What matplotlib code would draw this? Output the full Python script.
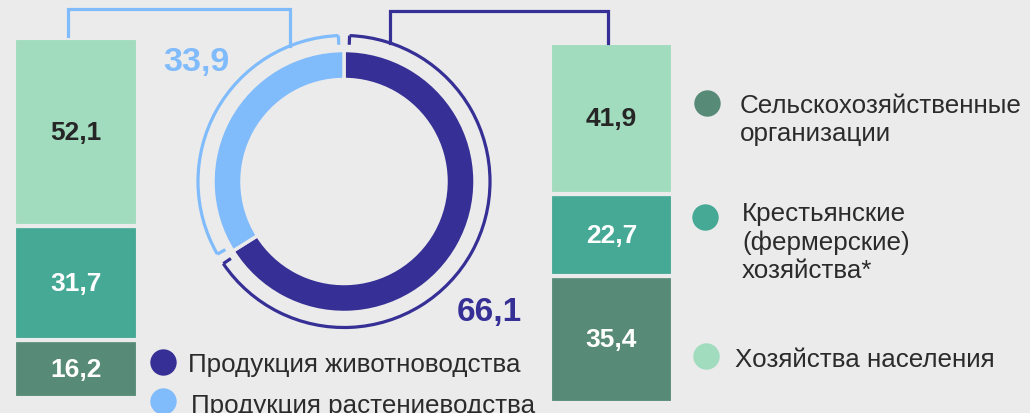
import numpy as np
import matplotlib
matplotlib.use("Agg")
import matplotlib.pyplot as plt
from matplotlib.patches import Arc

plt.rcParams['font.family'] = ['Liberation Sans', 'DejaVu Sans']

# ---------------- data ----------------
donut_labels = ["Продукция животноводства", "Продукция растениеводства"]
donut_values = [66.1, 33.9]

bar_categories = ["Сельскохозяйственные\nорганизации",
                  "Крестьянские\n(фермерские)\nхозяйства*",
                  "Хозяйства населения"]
# stacked bottom -> top in the order of bar_categories
crop_values = [16.2, 31.7, 52.1]       # left bar (растениеводство)
livestock_values = [35.4, 22.7, 41.9]  # right bar (животноводство)

# ---------------- style ----------------
BG = "#ebebeb"
DARK_BLUE = "#363096"
LIGHT_BLUE = "#80bbfc"
SEG_COLORS = ["#578a77", "#45a996", "#a0dcbd"]
LABEL_COLORS = ["white", "white", "#262626"]
TEXT = "#2b2b2b"

W, H = 1030, 414
fig = plt.figure(figsize=(W / 100, H / 100), dpi=100, facecolor=BG)


def px_axes(x0, y0, x1, y1):
    return fig.add_axes([x0 / W, 1 - y1 / H, (x1 - x0) / W, (y1 - y0) / H])


def fmt(v):
    return f"{v:.1f}".replace(".", ",")


def stacked_bar(box, values):
    ax = px_axes(*box)
    ax.set_facecolor("none")
    bottom = 0
    for v, c, tc in zip(values, SEG_COLORS, LABEL_COLORS):
        ax.bar(0, v, bottom=bottom, width=1, color=c, edgecolor=BG, linewidth=3)
        ax.text(0, bottom + v / 2, fmt(v), ha="center", va="center",
                fontsize=19, fontweight="bold", color=tc)
        bottom += v
    ax.set_xlim(-0.5, 0.5)
    ax.set_ylim(0, 100)
    ax.axis("off")
    return ax


stacked_bar((14, 39, 138, 399), crop_values)
stacked_bar((550, 44, 673, 404), livestock_values)

# ---------------- donut ----------------
cx, cy, R = 344, 182.5, 131
half = 1.2 * R
dax = px_axes(cx - half, cy - half, cx + half, cy + half)
dax.set_facecolor("none")
dax.pie(donut_values, colors=[DARK_BLUE, LIGHT_BLUE], startangle=90,
        counterclock=False, radius=1,
        wedgeprops=dict(width=29 / R, edgecolor=BG, linewidth=2.5))
dax.set_xlim(-1.2, 1.2)
dax.set_ylim(-1.2, 1.2)
dax.set_aspect("equal")
dax.axis("off")

r_arc = 146 / R
split = 90 - 360 * donut_values[0] / sum(donut_values) + 360  # CCW degrees
gap = 2.2
arcs = [(split + gap, 90 - gap + 360, DARK_BLUE),
        (90 + gap, split - gap, LIGHT_BLUE)]
for t1, t2, col in arcs:
    dax.add_patch(Arc((0, 0), 2 * r_arc, 2 * r_arc, theta1=t1, theta2=t2,
                      color=col, lw=2.3))
    for t in (t1, t2):
        a = np.deg2rad(t)
        dax.plot([r_arc * np.cos(a), (r_arc - 0.07) * np.cos(a)],
                 [r_arc * np.sin(a), (r_arc - 0.07) * np.sin(a)],
                 color=col, lw=2.3, solid_capstyle="butt")

# ---------------- overlay (connectors, labels, legends) ----------------
ov = fig.add_axes([0, 0, 1, 1])
ov.set_facecolor("none")
ov.set_xlim(0, W)
ov.set_ylim(H, 0)
ov.axis("off")

ov.plot([68, 68, 290, 290], [37, 10, 10, 47], color=LIGHT_BLUE, lw=2.3,
        solid_joinstyle="miter")
ov.plot([390, 390, 608, 608], [44, 12, 12, 44], color=DARK_BLUE, lw=2.3,
        solid_joinstyle="miter")

ov.text(196, 62, fmt(donut_values[1]), ha="center", va="center",
        fontsize=24.5, fontweight="bold", color=LIGHT_BLUE)
ov.text(489, 313, fmt(donut_values[0]), ha="center", va="center",
        fontsize=24, fontweight="bold", color=DARK_BLUE)

# donut legend
for (mx, my), (tx, ty), lab, col in zip([(163, 363), (163, 402)],
                                         [(188, 372), (191, 413)],
                                         donut_labels, [DARK_BLUE, LIGHT_BLUE]):
    ov.plot(mx, my, "o", ms=19, color=col, mec="none")
    ov.text(tx, ty, lab, ha="left", va="baseline", fontsize=18.7, color=TEXT)

# bar legend (text top y so that first baseline matches)
for (mx, my), (tx, ty), lab, col in zip([(707, 104), (705, 218), (706, 357)],
                                         [(740, 109), (742, 214), (735, 367)],
                                         bar_categories, SEG_COLORS):
    ov.plot(mx, my, "o", ms=19, color=col, mec="none")
    nlines = lab.count("\n")
    ov.text(tx, ty + nlines * 32, lab, ha="left", va="baseline",
            fontsize=18.7, color=TEXT, linespacing=1.23)

fig.savefig("out.png", dpi=100, facecolor=BG)
